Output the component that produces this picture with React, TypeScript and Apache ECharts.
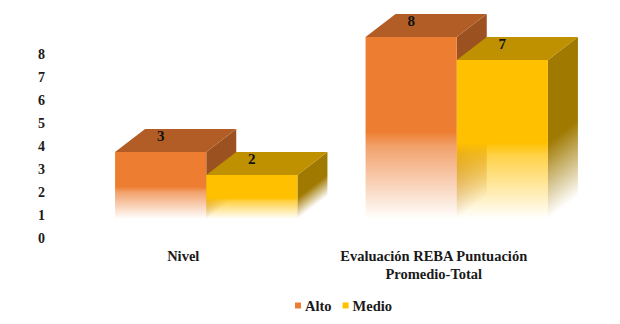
import React, { useEffect, useRef } from "react";
import * as echarts from "echarts";

const categories = ["Nivel", "Evaluación REBA Puntuación\nPromedio-Total"];
const altoValues = [3, 8];
const medioValues = [2, 7];
const yTicks = 8;

const FONT = '"Liberation Serif", "Times New Roman", serif';
const BAR_RATIO = 0.364;
const DEPTH_X = 30;
const DEPTH_Y = 23;
const SHIFT_X = 23;
const SHIFT_Y = 17;

type Palette = { base: string; top: string; side: string; rgb: string; sideRgb: string };
const altoPalette: Palette = { base: "#ED7D31", top: "#B25D25", side: "#9C5220", rgb: "237,125,49", sideRgb: "156,82,32" };
const medioPalette: Palette = { base: "#FFC000", top: "#BF9000", side: "#A07900", rgb: "255,192,0", sideRgb: "160,121,0" };

// Draws one pseudo-3D block: side face, top face, front face and its value.
function blockRenderer(palette: Palette, slot: 0 | 1) {
  return (params: any, api: any) => {
    const cat = api.value(0);
    const val = api.value(1);
    const [cx, topRaw] = api.coord([cat, val]);
    const [, baseRaw] = api.coord([cat, 0]);
    const w = api.size([1, 0])[0] * BAR_RATIO;
    const x0 = cx + SHIFT_X - w + slot * w;
    const x1 = x0 + w;
    const top = topRaw - SHIFT_Y;
    const base = baseRaw - SHIFT_Y - 2;
    const fadeStart = top + (base - top) * 0.52;
    const H = base - fadeStart;
    const k = (DEPTH_X * H) / (DEPTH_Y * DEPTH_Y + DEPTH_X * DEPTH_X);

    const frontFill = new echarts.graphic.LinearGradient(0, 0, 0, 1, [
      { offset: 0, color: palette.base },
      { offset: 0.52, color: palette.base },
      { offset: 0.6, color: `rgba(${palette.rgb},0.72)` },
      { offset: 1, color: `rgba(${palette.rgb},0)` },
    ]);
    const sideFill = new echarts.graphic.LinearGradient(
      x1, fadeStart, x1 + DEPTH_Y * k, fadeStart + DEPTH_X * k,
      [
        { offset: 0, color: palette.side },
        { offset: 1, color: `rgba(${palette.sideRgb},0)` },
      ],
      true,
    );

    return {
      type: "group",
      children: [
        {
          type: "polygon",
          shape: { points: [[x1, top], [x1 + DEPTH_X, top - DEPTH_Y], [x1 + DEPTH_X, base - DEPTH_Y], [x1, base]] },
          style: { fill: sideFill },
        },
        {
          type: "polygon",
          shape: { points: [[x0, top], [x0 + DEPTH_X, top - DEPTH_Y], [x1 + DEPTH_X, top - DEPTH_Y], [x1, top]] },
          style: { fill: palette.top },
        },
        {
          type: "rect",
          shape: { x: x0, y: top, width: w, height: base - top },
          style: { fill: frontFill },
        },
        {
          type: "text",
          x: x0 + w / 2,
          y: top - 16,
          style: {
            text: String(val),
            fill: "#111",
            font: `bold 15px ${FONT}`,
            textAlign: "center",
            textVerticalAlign: "middle",
          },
        },
      ],
    };
  };
}

export default function App() {
  const ref = useRef<HTMLDivElement>(null);

  useEffect(() => {
    document.body.style.margin = "0";
    const chart = echarts.init(ref.current!, undefined, { renderer: "svg" });
    chart.setOption({
      animation: false,
      backgroundColor: "#fff",
      grid: { left: 58, right: 61, top: 54, bottom: 86, containLabel: false },
      xAxis: {
        type: "category",
        data: categories,
        axisLine: { show: false },
        axisTick: { show: false },
        axisLabel: { color: "#1a1a1a", fontFamily: FONT, fontWeight: "bold", fontSize: 14.5, margin: 9, lineHeight: 18 },
      },
      yAxis: {
        type: "value",
        min: 0,
        max: yTicks,
        interval: 1,
        axisLine: { show: false },
        axisTick: { show: false },
        splitLine: { show: false },
        axisLabel: { color: "#1a1a1a", fontFamily: FONT, fontWeight: "bold", fontSize: 14, margin: 13 },
      },
      legend: {
        bottom: 6,
        left: 290,
        icon: "rect",
        itemWidth: 6,
        itemHeight: 6,
        itemGap: 11,
        textStyle: { color: "#1a1a1a", fontFamily: FONT, fontWeight: "bold", fontSize: 14.5, padding: [0, 0, 0, -1] },
        data: ["Alto", "Medio"],
      },
      series: [
        {
          name: "Alto",
          type: "custom",
          renderItem: blockRenderer(altoPalette, 0),
          itemStyle: { color: altoPalette.base },
          encode: { x: 0, y: 1 },
          data: altoValues.map((v, i) => [i, v]),
        },
        {
          name: "Medio",
          type: "custom",
          renderItem: blockRenderer(medioPalette, 1),
          itemStyle: { color: medioPalette.base },
          encode: { x: 0, y: 1 },
          data: medioValues.map((v, i) => [i, v]),
        },
      ],
    });
    return () => chart.dispose();
  }, []);

  return <div ref={ref} style={{ width: 620, height: 324 }} />;
}
